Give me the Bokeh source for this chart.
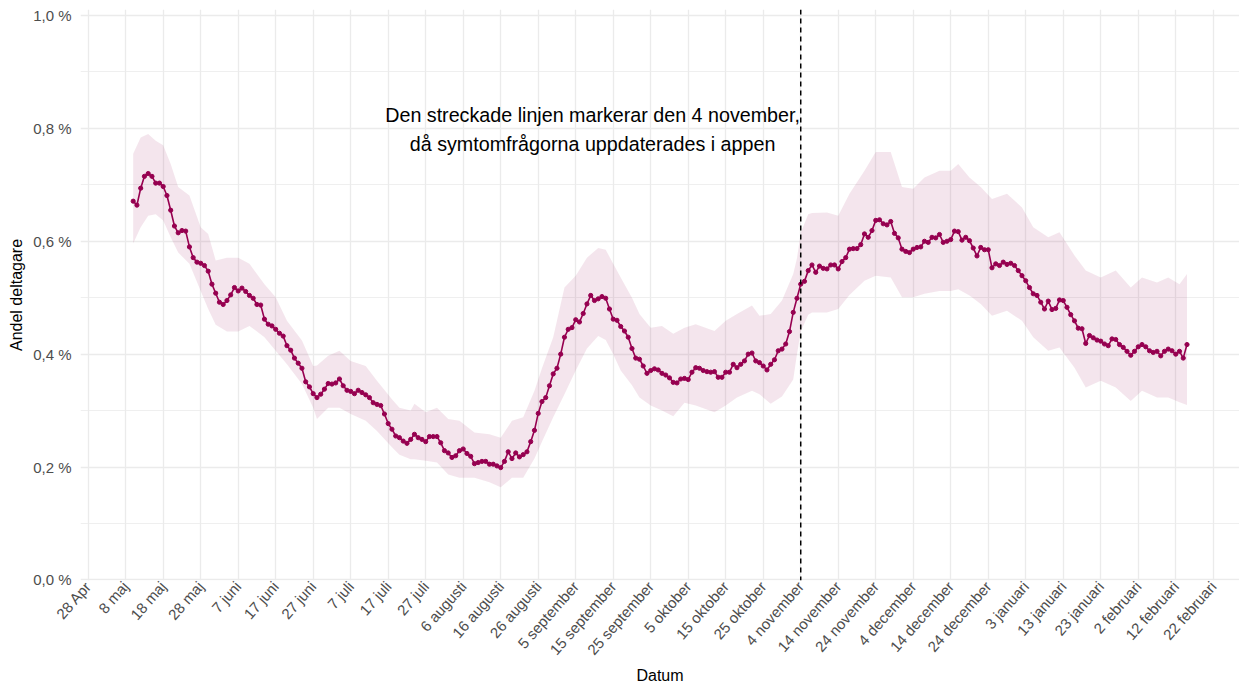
import math
import pandas as pd
from bokeh.plotting import figure
from bokeh.models import ColumnDataSource, Range1d, FixedTicker, Span
from bokeh.core.properties import value
from bokeh.embed import file_html
from bokeh.resources import INLINE

# ---------------- data ----------------
axis_origin = "2020-04-28"
series_start = "2020-05-10"

# daily share of participants (%), 10 May 2020 - 15 Feb 2021
andel = [
    0.671, 0.664, 0.694, 0.715, 0.720, 0.715, 0.703, 0.703, 0.697, 0.681,
    0.655, 0.627, 0.615, 0.619, 0.618, 0.590, 0.571, 0.563, 0.561, 0.557,
    0.547, 0.524, 0.508, 0.492, 0.488, 0.495, 0.505, 0.518, 0.512, 0.517,
    0.511, 0.504, 0.499, 0.488, 0.487,
    0.462, 0.453, 0.450, 0.444, 0.437, 0.432, 0.415, 0.407, 0.393, 0.384,
    0.375, 0.351, 0.342, 0.330, 0.323, 0.329, 0.338, 0.348, 0.347, 0.349,
    0.356, 0.344, 0.336, 0.334, 0.330, 0.336, 0.332, 0.328, 0.323, 0.314,
    0.311, 0.309, 0.294, 0.277, 0.267, 0.255, 0.252,
    0.246, 0.242, 0.249, 0.258, 0.252, 0.249, 0.245, 0.254, 0.254, 0.254,
    0.243, 0.229, 0.225, 0.217, 0.220, 0.229, 0.232, 0.224, 0.219, 0.206,
    0.208, 0.210, 0.210, 0.205, 0.205, 0.202, 0.199, 0.210, 0.227, 0.215,
    0.225, 0.218, 0.222, 0.227, 0.245, 0.265, 0.295,
    0.316, 0.323, 0.344, 0.365, 0.375, 0.400, 0.430, 0.444, 0.447, 0.461,
    0.457, 0.472, 0.489, 0.504, 0.495, 0.498, 0.502, 0.499, 0.480, 0.462,
    0.460, 0.449, 0.441, 0.430, 0.410, 0.393, 0.391, 0.379, 0.366, 0.371,
    0.374, 0.372, 0.366, 0.363, 0.358, 0.350,
    0.349, 0.356, 0.357, 0.355, 0.368, 0.376, 0.375, 0.371, 0.369, 0.368,
    0.369, 0.359, 0.359, 0.368, 0.368, 0.382, 0.376, 0.382, 0.388, 0.400,
    0.402, 0.388, 0.385, 0.379, 0.372, 0.382, 0.390, 0.406, 0.409, 0.418,
    0.440, 0.474, 0.499,
    0.524, 0.529, 0.548, 0.558, 0.545, 0.556, 0.552, 0.551, 0.558, 0.558,
    0.551, 0.564, 0.571, 0.586, 0.587, 0.587, 0.594, 0.613, 0.607, 0.619,
    0.637, 0.638, 0.631, 0.629, 0.635, 0.614, 0.606, 0.586, 0.582, 0.580,
    0.586, 0.589, 0.590, 0.600, 0.598, 0.607, 0.606, 0.612, 0.598, 0.600,
    0.603, 0.618, 0.617, 0.602, 0.607, 0.601, 0.588, 0.574, 0.589, 0.585,
    0.585, 0.553, 0.560, 0.557, 0.563, 0.559, 0.561, 0.557, 0.548, 0.539,
    0.530, 0.518, 0.507, 0.504, 0.492, 0.480, 0.494, 0.479, 0.481, 0.496,
    0.495, 0.483, 0.470, 0.459, 0.446,
    0.445, 0.419, 0.433, 0.429, 0.425, 0.423, 0.418, 0.415, 0.427, 0.426,
    0.417, 0.412, 0.405, 0.398, 0.405, 0.413, 0.417, 0.413, 0.406, 0.403,
    0.405, 0.397, 0.405, 0.409, 0.406, 0.400, 0.405, 0.393, 0.417,
]

# confidence band (read at selected dates)
band_dates = [
    "2020-05-10", "2020-05-12", "2020-05-14", "2020-05-16", "2020-05-18",
    "2020-05-20", "2020-05-22", "2020-05-25", "2020-05-28", "2020-05-30",
    "2020-06-01", "2020-06-04", "2020-06-07", "2020-06-10", "2020-06-14",
    "2020-06-17", "2020-06-20", "2020-06-24", "2020-06-27", "2020-06-28",
    "2020-07-01", "2020-07-04", "2020-07-07", "2020-07-11", "2020-07-14",
    "2020-07-18", "2020-07-20", "2020-07-23", "2020-07-24", "2020-07-27",
    "2020-07-30", "2020-08-02", "2020-08-05", "2020-08-09", "2020-08-13",
    "2020-08-16", "2020-08-19", "2020-08-22", "2020-08-25", "2020-08-27",
    "2020-08-30", "2020-09-02", "2020-09-05", "2020-09-08", "2020-09-11",
    "2020-09-13", "2020-09-15", "2020-09-17", "2020-09-20", "2020-09-22",
    "2020-09-25", "2020-09-28", "2020-10-01", "2020-10-04", "2020-10-07",
    "2020-10-12", "2020-10-15", "2020-10-18", "2020-10-22", "2020-10-24",
    "2020-10-27", "2020-10-30", "2020-11-02", "2020-11-03", "2020-11-04",
    "2020-11-06", "2020-11-07", "2020-11-11", "2020-11-14", "2020-11-17",
    "2020-11-21", "2020-11-24", "2020-11-28", "2020-12-01", "2020-12-04",
    "2020-12-07", "2020-12-11", "2020-12-14", "2020-12-16", "2020-12-19",
    "2020-12-22", "2020-12-25", "2020-12-29", "2021-01-02", "2021-01-05",
    "2021-01-09", "2021-01-12", "2021-01-16", "2021-01-19", "2021-01-23",
    "2021-01-27", "2021-01-31", "2021-02-03", "2021-02-07", "2021-02-10",
    "2021-02-13", "2021-02-15",
]
band_hi = [
    0.755, 0.784, 0.790, 0.778, 0.770, 0.737, 0.696, 0.681, 0.625, 0.613,
    0.566, 0.571, 0.571, 0.560, 0.524, 0.501, 0.459, 0.424, 0.379, 0.380,
    0.397, 0.406, 0.388, 0.379, 0.353, 0.320, 0.305, 0.300, 0.312, 0.297,
    0.305, 0.285, 0.282, 0.261, 0.258, 0.252, 0.282, 0.288, 0.335, 0.375,
    0.430, 0.518, 0.539, 0.571, 0.588, 0.585, 0.560, 0.536, 0.500, 0.471,
    0.447, 0.450, 0.436, 0.447, 0.453, 0.441, 0.459, 0.471, 0.486, 0.468,
    0.471, 0.495, 0.542, 0.570, 0.615, 0.648, 0.650, 0.651, 0.645, 0.684,
    0.725, 0.758, 0.758, 0.696, 0.693, 0.713, 0.725, 0.725, 0.737, 0.713,
    0.696, 0.675, 0.684, 0.660, 0.625, 0.607, 0.616, 0.575, 0.548, 0.536,
    0.548, 0.518, 0.536, 0.527, 0.536, 0.524, 0.542,
]
band_lo = [
    0.596, 0.625, 0.645, 0.648, 0.637, 0.607, 0.580, 0.560, 0.512, 0.480,
    0.452, 0.440, 0.440, 0.450, 0.430, 0.406, 0.382, 0.347, 0.305, 0.285,
    0.305, 0.305, 0.294, 0.282, 0.264, 0.235, 0.222, 0.214, 0.214, 0.211,
    0.208, 0.187, 0.181, 0.181, 0.173, 0.164, 0.181, 0.181, 0.215, 0.245,
    0.288, 0.329, 0.371, 0.410, 0.432, 0.425, 0.400, 0.371, 0.345, 0.323,
    0.309, 0.300, 0.290, 0.314, 0.309, 0.297, 0.309, 0.323, 0.335, 0.329,
    0.312, 0.325, 0.355, 0.400, 0.440, 0.470, 0.474, 0.474, 0.480, 0.505,
    0.530, 0.539, 0.536, 0.501, 0.501, 0.507, 0.512, 0.512, 0.515, 0.504,
    0.489, 0.468, 0.477, 0.459, 0.430, 0.406, 0.412, 0.376, 0.341, 0.353,
    0.341, 0.317, 0.335, 0.323, 0.323, 0.315, 0.310,
]

x_tick_labels = [
    "28 Apr", "8 maj", "18 maj", "28 maj", "7 juni", "17 juni", "27 juni",
    "7 juli", "17 juli", "27 juli", "6 augusti", "16 augusti", "26 augusti",
    "5 september", "15 september", "25 september", "5 oktober", "15 oktober",
    "25 oktober", "4 november", "14 november", "24 november", "4 december",
    "14 december", "24 december", "3 januari", "13 januari", "23 januari",
    "2 februari", "12 februari", "22 februari",
]
y_ticks = [0, 0.2, 0.4, 0.6, 0.8, 1.0]
y_minor = [0.1, 0.3, 0.5, 0.7, 0.9]
y_tick_labels = ["0,0 %", "0,2 %", "0,4 %", "0,6 %", "0,8 %", "1,0 %"]

marker_date = "2020-11-04"
note_lines = ["Den streckade linjen markerar den 4 november,",
              "då symtomfrågorna uppdaterades i appen"]

# ---------------- build ----------------
origin = pd.Timestamp(axis_origin)
days = lambda d: (pd.to_datetime(d) - origin).days

dates = pd.date_range(series_start, periods=len(andel), freq="D")
src = ColumnDataSource(dict(x=[(d - origin).days for d in dates], y=andel))
band = ColumnDataSource(dict(x=[days(d) for d in band_dates], lo=band_lo, hi=band_hi))

COL = "#960050"
FONT = "Liberation Sans"

p = figure(width=1239, height=686, output_backend="svg", toolbar_location=None,
           x_range=Range1d(-2.05, 307.0), y_range=Range1d(-0.001, 1.0106),
           min_border_left=80, min_border_right=0, min_border_top=9,
           min_border_bottom=104)
p.background_fill_color = "white"
p.border_fill_color = "white"
p.outline_line_color = None

p.varea(x="x", y1="lo", y2="hi", source=band, fill_color=COL, fill_alpha=0.1)
p.line(x="x", y="y", source=src, line_color=COL, line_width=1.6)
p.scatter(x="x", y="y", source=src, size=4.2, fill_color=COL, line_color=COL)

p.add_layout(Span(location=days(marker_date), dimension="height",
                  line_color="black", line_width=1.5, line_dash="5 4"))

note_src = ColumnDataSource(dict(x=[134.5, 134.5], y=[0.823, 0.773], t=note_lines))
p.text(x="x", y="y", text="t", source=note_src, text_align="center",
       text_baseline="middle", text_font=value(FONT), text_font_size="19.7px",
       text_color="black")

x_ticks = list(range(0, 10 * len(x_tick_labels), 10))
p.xaxis.ticker = FixedTicker(ticks=x_ticks)
p.xaxis.major_label_overrides = dict(zip(x_ticks, x_tick_labels))
p.xaxis.major_label_orientation = 0.85
p.yaxis.ticker = FixedTicker(ticks=y_ticks, minor_ticks=y_minor)
p.yaxis.major_label_overrides = dict(zip(y_ticks, y_tick_labels))

p.xaxis.axis_label = "Datum"
p.yaxis.axis_label = "Andel deltagare"
for ax in (p.xaxis, p.yaxis):
    ax.axis_line_color = None
    ax.major_tick_line_color = None
    ax.minor_tick_line_color = None
    ax.major_tick_out = 0
    ax.major_tick_in = 0
    ax.minor_tick_out = 0
    ax.minor_tick_in = 0
    ax.major_label_text_font = FONT
    ax.major_label_text_font_size = "15px"
    ax.major_label_text_color = "#4D4D4D"
    ax.axis_label_text_font = FONT
    ax.axis_label_text_font_size = "16px"
    ax.axis_label_text_font_style = "normal"
    ax.axis_label_text_color = "black"
p.xaxis.major_label_standoff = 3
p.yaxis.major_label_standoff = 9
p.xaxis.axis_label_standoff = 0
p.yaxis.axis_label_standoff = 5

p.xgrid.grid_line_color = "#EBEBEB"
p.xgrid.grid_line_width = 1.3
p.ygrid.grid_line_color = "#EBEBEB"
p.ygrid.grid_line_width = 1.3
p.ygrid.minor_grid_line_color = "#EBEBEB"
p.ygrid.minor_grid_line_width = 0.8

open("out.html", "w").write(file_html(p, INLINE))
